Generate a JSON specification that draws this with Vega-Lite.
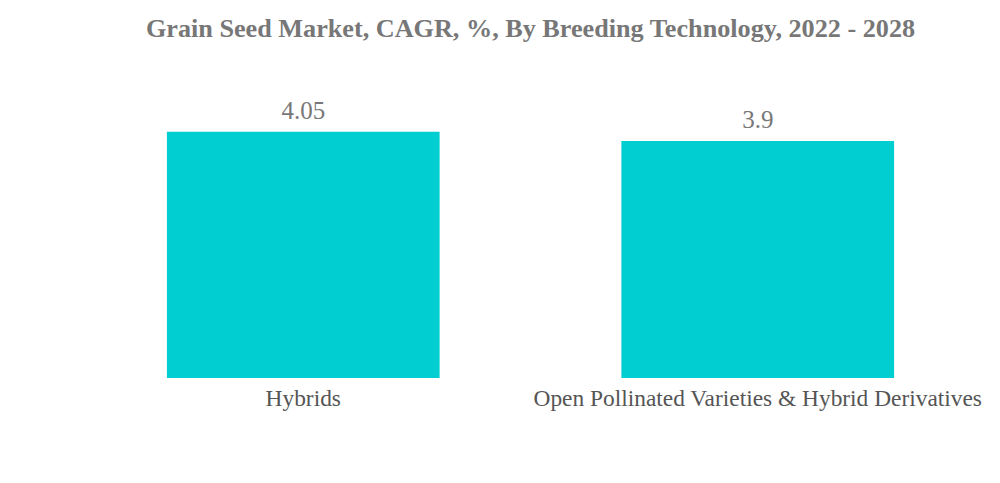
{
  "$schema": "https://vega.github.io/schema/vega-lite/v6.json",
  "width": 909,
  "height": 304,
  "autosize": {"type": "none"},
  "padding": {"left": 76, "top": 74, "right": 15, "bottom": 105},
  "background": "white",
  "title": {
    "text": "Grain Seed Market, CAGR, %, By Breeding Technology, 2022 - 2028",
    "font": "Liberation Serif",
    "fontSize": 26.2,
    "fontWeight": "bold",
    "color": "#777777",
    "anchor": "middle",
    "offset": 32
  },
  "data": {
    "values": [
      {"technology": "Hybrids", "cagr": 4.05},
      {"technology": "Open Pollinated Varieties & Hybrid Derivatives", "cagr": 3.9}
    ]
  },
  "encoding": {
    "x": {
      "field": "technology",
      "type": "nominal",
      "sort": null,
      "scale": {"paddingInner": 0.4, "paddingOuter": 0.2},
      "axis": {
        "title": null,
        "labelAngle": 0,
        "labelFont": "Liberation Serif",
        "labelFontSize": 23.4,
        "labelColor": "#555555",
        "labelPadding": 9,
        "ticks": false,
        "domain": false,
        "labelLimit": 0
      }
    },
    "y": {
      "field": "cagr",
      "type": "quantitative",
      "scale": {"domain": [0, 5]},
      "axis": null
    }
  },
  "layer": [
    {"mark": {"type": "bar", "color": "#00CED1"}},
    {
      "mark": {"type": "text", "baseline": "bottom", "dy": -8, "font": "Liberation Serif", "fontSize": 25, "color": "#777777"},
      "encoding": {"text": {"field": "cagr", "type": "quantitative"}}
    }
  ],
  "config": {"view": {"stroke": null}}
}
